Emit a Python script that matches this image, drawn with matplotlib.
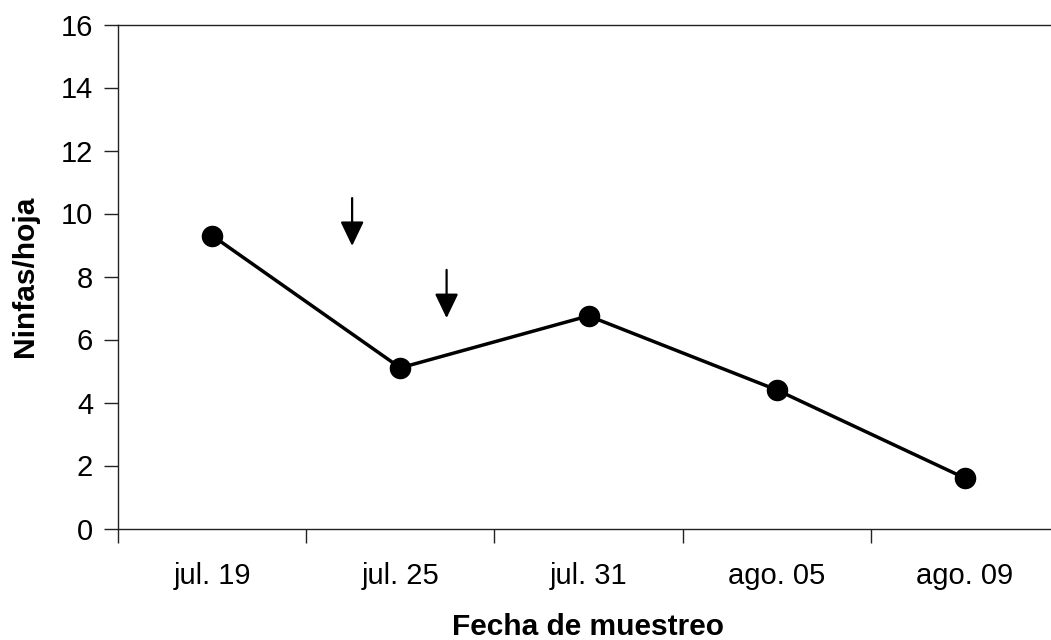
import matplotlib
matplotlib.use("Agg")
import matplotlib.pyplot as plt
import numpy as np

# Data
categories = ["jul. 19", "jul. 25", "jul. 31", "ago. 05", "ago. 09"]
ninfas = [9.3, 5.1, 6.75, 4.4, 1.6]
y_ticks = [0, 2, 4, 6, 8, 10, 12, 14, 16]

# Arrow annotations (x in category units, y in data units): (x, y_tail, y_tip)
arrow_x = [0.744, 1.246]
arrow_tail = [10.49, 8.21]
arrow_tip = [8.97, 6.68]

plt.rcParams['font.family'] = ['Liberation Sans', 'DejaVu Sans']

fig = plt.figure(figsize=(10.51, 6.40), dpi=100)
ax_h = 504 / 640
ax_w = 941 / 1051
ax = fig.add_axes([118/1051, 1 - 528.5/640, ax_w, ax_h])

x = np.arange(len(categories))
ax.plot(x, ninfas, color='black', lw=2.5, marker='o', markersize=14.5,
        markerfacecolor='black', markeredgecolor='black', zorder=3)

for ax_x, yt, yp in zip(arrow_x, arrow_tail, arrow_tip):
    ax.annotate('', xy=(ax_x, yp), xytext=(ax_x, yt),
                arrowprops=dict(arrowstyle='-|>,head_length=0.75,head_width=0.36',
                                color='black', lw=1.6, mutation_scale=20,
                                shrinkA=0, shrinkB=0))

ax.set_xlim(-0.5, len(categories) - 0.5)
ax.set_ylim(0, 16)
ax.set_yticks(y_ticks)
ax.set_yticklabels([str(v) for v in y_ticks], fontsize=21)

# Ticks between categories, labels at centres
ax.set_xticks(np.arange(len(categories) + 1) - 0.5)
ax.set_xticklabels([])
ax.set_xticks(x, minor=True)
ax.set_xticklabels(categories, minor=True, fontsize=21)
ax.tick_params(axis='x', which='major', length=10, width=1, direction='out', color='#222222')
ax.tick_params(axis='x', which='minor', length=0, pad=24)
ax.tick_params(axis='y', length=10, width=1, direction='out', color='#222222', pad=8)

for s in ['left', 'bottom', 'top']:
    ax.spines[s].set_linewidth(1.0)
    ax.spines[s].set_color('#222222')
ax.spines['right'].set_visible(False)

ax.set_xlabel('Fecha de muestreo', fontsize=21.5, fontweight='bold')
ax.xaxis.label.set_va('baseline')
ax.xaxis.set_label_coords(0.5, -(635 - 528.5) / 504)

ax.set_ylabel('Ninfas/hoja', fontsize=21.5, fontweight='bold')
ax.yaxis.label.set_va('center')
ax.yaxis.set_label_coords((25 - 118) / 941, 0.5)

fig.savefig('out.png', dpi=100)
